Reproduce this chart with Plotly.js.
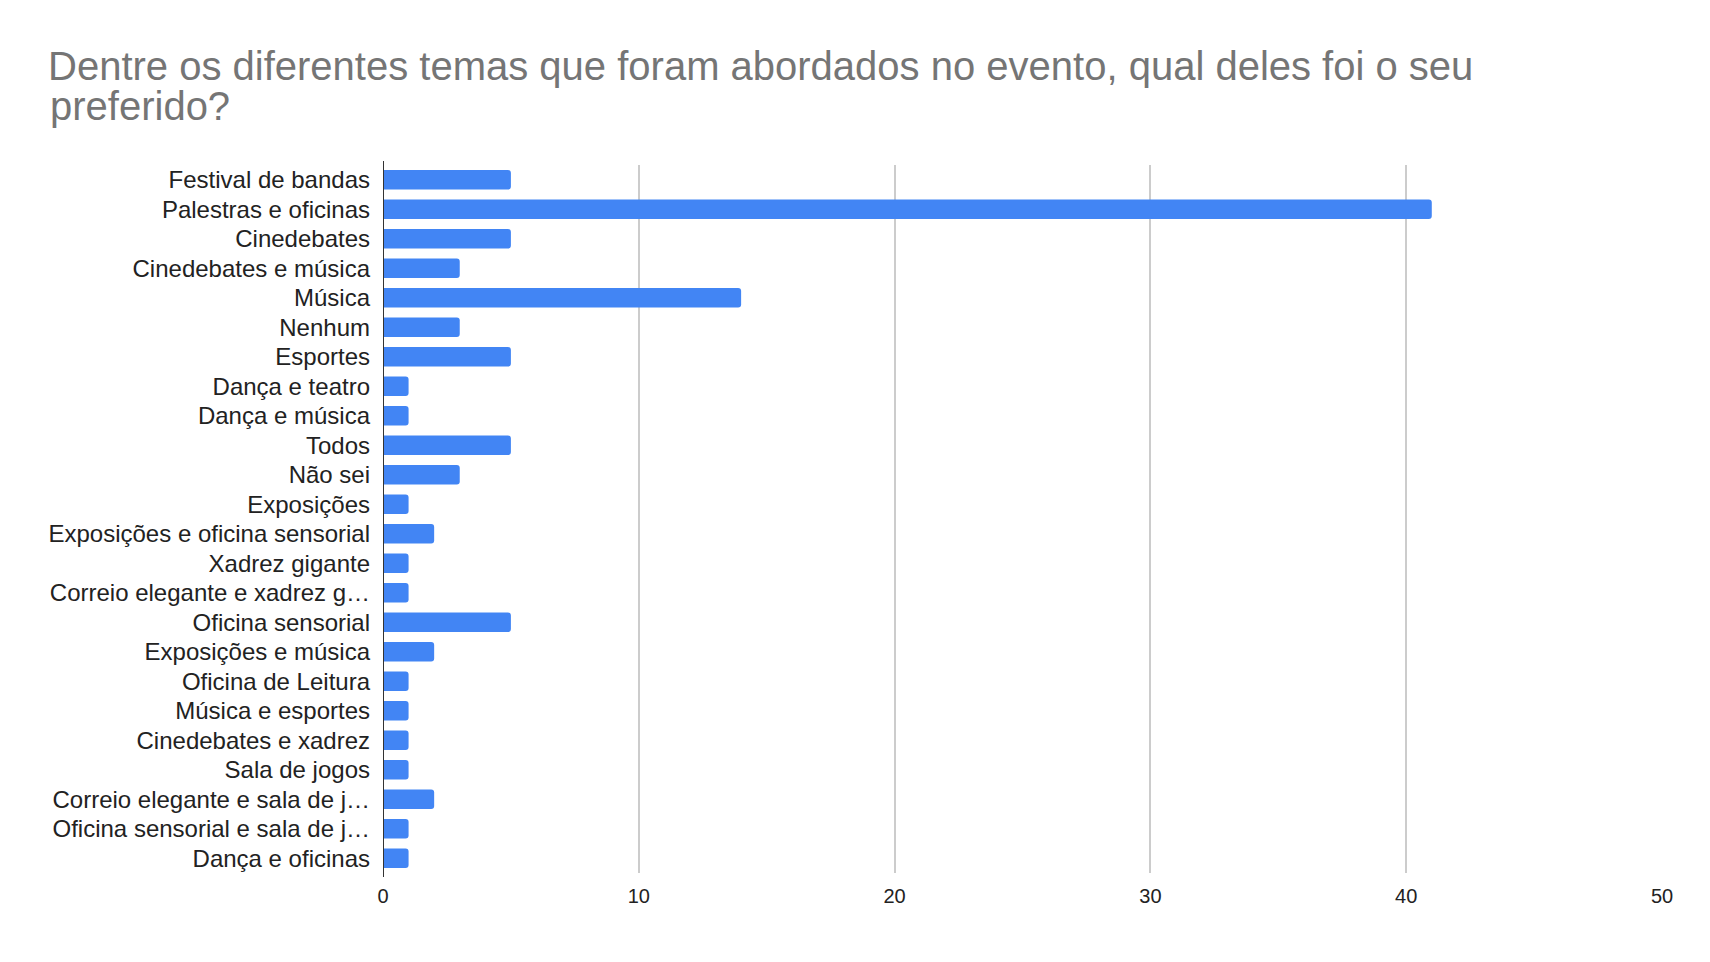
<!DOCTYPE html>
<html>
<head>
<meta charset="utf-8">
<script src="https://cdn.plot.ly/plotly-3.0.1.min.js"></script>
<style>html,body{margin:0;padding:0;background:#fff;}#chart{width:1710px;height:962px;}</style>
</head>
<body>
<div id="chart"></div>
<script>
const categories = [
  "Festival de bandas",
  "Palestras e oficinas",
  "Cinedebates",
  "Cinedebates e música",
  "Música",
  "Nenhum",
  "Esportes",
  "Dança e teatro",
  "Dança e música",
  "Todos",
  "Não sei",
  "Exposições",
  "Exposições e oficina sensorial",
  "Xadrez gigante",
  "Correio elegante e xadrez g…",
  "Oficina sensorial",
  "Exposições e música",
  "Oficina de Leitura",
  "Música e esportes",
  "Cinedebates e xadrez",
  "Sala de jogos",
  "Correio elegante e sala de j…",
  "Oficina sensorial e sala de j…",
  "Dança e oficinas"
];
const values = [5, 41, 5, 3, 14, 3, 5, 1, 1, 5, 3, 1, 2, 1, 1, 5, 2, 1, 1, 1, 1, 2, 1, 1];
const xTicks = [0, 10, 20, 30, 40, 50];
const titleLine1 = "Dentre os diferentes temas que foram abordados no evento, qual deles foi o seu";
const titleLine2 = "preferido?";

const W = 1710, H = 962;
const M = { l: 383, r: 48, t: 165, b: 89 };
const plotW = W - M.l - M.r, plotH = H - M.t - M.b;

const titleFont = { size: 40, color: "#757575", family: "Liberation Sans, Arial, sans-serif" };

const trace = {
  type: "bar",
  orientation: "h",
  y: categories,
  x: values,
  marker: { color: "#4285F4", cornerradius: 3 },
  hoverinfo: "x+y"
};

const layout = {
  width: W,
  height: H,
  paper_bgcolor: "#ffffff",
  plot_bgcolor: "#ffffff",
  font: { family: "Liberation Sans, Arial, sans-serif", color: "#222222" },
  margin: { l: M.l, r: M.r, t: M.t, b: M.b, pad: 0 },
  bargap: 0.34,
  showlegend: false,
  title: {
    text: titleLine1,
    x: 48 / W,
    xanchor: "left",
    xref: "container",
    y: 1 - 66 / H,
    yanchor: "middle",
    yref: "container",
    font: titleFont
  },
  annotations: [{
    text: titleLine2,
    xref: "paper", yref: "paper",
    x: (48 - M.l) / plotW,
    y: 1 + (M.t - 106) / plotH,
    xanchor: "left", yanchor: "middle",
    showarrow: false,
    font: titleFont
  }],
  xaxis: {
    range: [0, 50],
    tickvals: xTicks,
    ticktext: xTicks.map(String),
    showgrid: true,
    gridcolor: "#cccccc",
    gridwidth: 2,
    zeroline: false,
    showline: false,
    ticks: "",
    ticklabelstandoff: 9,
    tickfont: { size: 20, color: "#222222" },
    fixedrange: true
  },
  yaxis: {
    autorange: "reversed",
    type: "category",
    showgrid: false,
    zeroline: false,
    showline: false,
    ticks: "",
    ticklabelstandoff: 12,
    tickfont: { size: 24, color: "#222222" },
    fixedrange: true
  },
  shapes: [{
    type: "line",
    xref: "x", yref: "paper",
    x0: 0, x1: 0, y0: -4 / plotH, y1: 1 + 4 / plotH,
    line: { color: "#333333", width: 2 }
  }]
};

Plotly.newPlot("chart", [trace], layout, { displayModeBar: false, responsive: false });
</script>
</body>
</html>
